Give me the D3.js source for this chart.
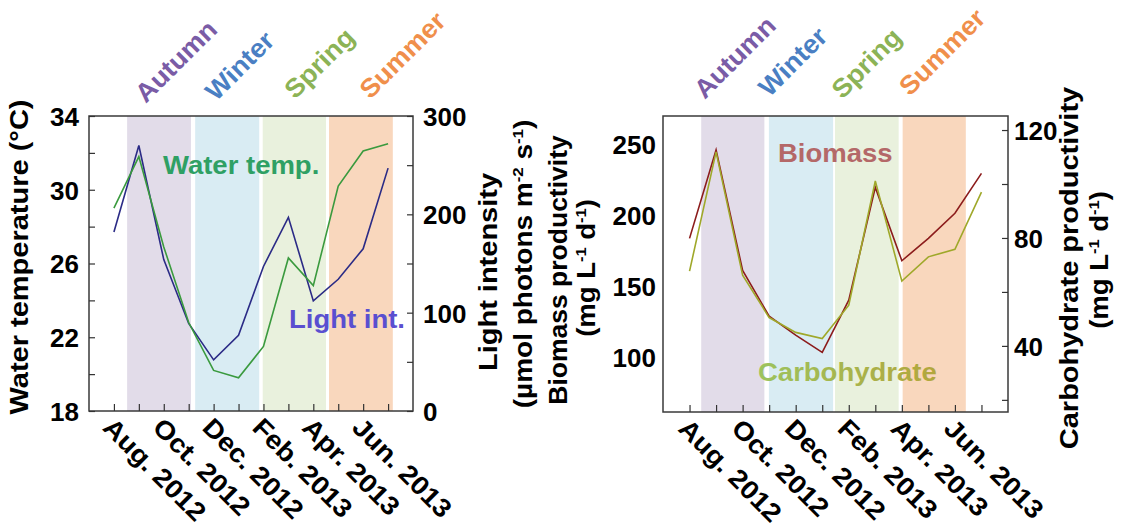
<!DOCTYPE html>
<html>
<head>
<meta charset="utf-8">
<script src="https://cdn.jsdelivr.net/npm/d3@7/dist/d3.min.js"></script>
<style>
  html, body { margin: 0; padding: 0; background: #fff; }
  svg { display: block; font-family: "Liberation Sans", Arial, sans-serif; font-weight: bold; }
</style>
</head>
<body>
<svg id="chart" width="1122" height="526"></svg>
<script>
// Monthly sampling, Aug 2012 – Jul 2013
const months = ["Aug. 2012", "Sep. 2012", "Oct. 2012", "Nov. 2012", "Dec. 2012", "Jan. 2013",
                "Feb. 2013", "Mar. 2013", "Apr. 2013", "May 2013", "Jun. 2013", "Jul. 2013"];
const monthTickLabels = ["Aug. 2012", "", "Oct. 2012", "", "Dec. 2012", "",
                         "Feb. 2013", "", "Apr. 2013", "", "Jun. 2013", ""];

// Left panel series
const waterTemp = [29.0, 31.8, 26.9, 22.8, 20.2, 19.8, 21.5, 26.3, 24.8, 30.2, 32.1, 32.5];   // °C
const lightInt  = [182, 270, 154, 89, 52, 77, 147, 197, 112, 134, 165, 247];                 // µmol photons m-2 s-1

// Right panel series
const biomass      = [183.6, 246, 161, 128.7, 115.3, 103.1, 140, 219.6, 167.8, 183.6, 201.3, 229.5]; // mg L-1 d-1
const carbohydrate = [67.7, 111.9, 66.2, 50.5, 45.0, 42.7, 55.1, 101.1, 64.0, 73.0, 75.8, 97.0];     // mg L-1 d-1

// Axis ticks
const tempTicks = [18, 20, 22, 24, 26, 28, 30, 32, 34];
const tempLabels = [18, 22, 26, 30, 34];
const lightTicks = [0, 50, 100, 150, 200, 250, 300];
const lightLabels = [0, 100, 200, 300];
const biomassTicks = [100, 150, 200, 250];
const carbTicks = [20, 40, 60, 80, 100, 120];
const carbLabels = [40, 80, 120];

// Seasons (shaded spans, in month-index units)
const seasons = ["Autumn", "Winter", "Spring", "Summer"];
const seasonText = ["#7a5ca6", "#4a7fc3", "#8cb356", "#f08f4b"];
const seasonFill = ["#e2dce9", "#d9ecf3", "#e9f1dd", "#f9d7bd"];
const leftSpans  = [[0.53, 3.09], [3.26, 5.83], [5.97, 8.51], [8.63, 11.19]];
const rightSpans = [[0.44, 2.82], [2.99, 5.41], [5.48, 7.88], [8.03, 10.41]];
const leftSeasonAt  = [1.28, 4.1, 7.27, 10.28];
const rightSeasonAt = [0.57, 3.0, 5.75, 8.3];

const svg = d3.select("#chart");

// gradient for the "Carbohydrate" label
const defs = svg.append("defs");
const grad = defs.append("linearGradient").attr("id", "carbGrad")
  .attr("x1", "0%").attr("x2", "100%").attr("y1", "0%").attr("y2", "0%");
grad.append("stop").attr("offset", "0%").attr("stop-color", "#9cc35e");
grad.append("stop").attr("offset", "100%").attr("stop-color", "#b3a63c");

const TICK_FONT = 26;
const TITLE_FONT = 25;

function panel(opts) {
  const { x0, x1, y0, y1, spans, seasonAt, seasonY } = opts;
  const x = d3.scaleLinear().domain([-1, 12]).range([x0, x1]);
  const g = svg.append("g");

  // season bands
  g.selectAll("rect.band").data(spans).join("rect")
    .attr("class", "band")
    .attr("x", d => x(d[0])).attr("width", d => x(d[1]) - x(d[0]))
    .attr("y", y0).attr("height", y1 - y0)
    .attr("fill", (d, i) => seasonFill[i]);

  // season names above the frame
  g.selectAll("text.season").data(seasons).join("text")
    .attr("class", "season")
    .attr("transform", (d, i) => `translate(${x(seasonAt[i])},${seasonY[i]}) rotate(-45) scale(1.05,1)`)
    .attr("font-size", 26)
    .attr("fill", (d, i) => seasonText[i])
    .text(d => d);

  // frame
  g.append("rect")
    .attr("x", x0).attr("y", y0).attr("width", x1 - x0).attr("height", y1 - y0)
    .attr("fill", "none").attr("stroke", "#3a3a3a").attr("stroke-width", 1.5);

  // bottom axis with inward ticks
  const xAxis = g.append("g").attr("transform", `translate(0,${y1})`)
    .call(d3.axisBottom(x).tickValues(d3.range(12)).tickSize(-7).tickSizeOuter(0)
      .tickFormat(i => monthTickLabels[i]));
  xAxis.select(".domain").remove();
  xAxis.selectAll(".tick line").attr("stroke", "#333").attr("stroke-width", 1.2);
  xAxis.selectAll(".tick text")
    .attr("font-size", 26).attr("fill", "#000")
    .attr("text-anchor", "start")
    .attr("y", 0).attr("dy", 0)
    .attr("transform", "translate(-13,18) rotate(45) scale(1.08,1)");

  return { g, x };
}

function styleAxis(sel) {
  sel.select(".domain").remove();
  sel.selectAll(".tick line").attr("stroke", "#333").attr("stroke-width", 1.2);
  sel.selectAll(".tick text").attr("font-size", TICK_FONT).attr("fill", "#000");
}

// rotated axis title; parts with `sup` are set as raised small text
function vTitle(cx, cy, parts, size, stretch = 1.16) {
  const t = svg.append("text")
    .attr("transform", `translate(${cx},${cy}) rotate(-90) scale(${stretch},1)`)
    .attr("text-anchor", "middle")
    .attr("font-size", size)
    .attr("fill", "#000");
  const rise = size * 0.38;
  let raised = false;
  parts.forEach(p => {
    const ts = t.append("tspan");
    if (p.sup) {
      ts.attr("font-size", size * 0.6).text(p.sup);
      if (!raised) ts.attr("dy", -rise);
      raised = true;
    } else {
      ts.text(p.t);
      if (raised) ts.attr("dy", rise);
      raised = false;
    }
  });
  return t;
}

// ---------------- Left panel: water temperature & light intensity ----------------
{
  const L = { x0: 89, x1: 413, y0: 116, y1: 411 };
  const { g, x } = panel({ ...L, spans: leftSpans, seasonAt: leftSeasonAt, seasonY: [104, 102, 100, 100] });
  const yT = d3.scaleLinear().domain([18, 34]).range([L.y1, L.y0]);
  const yI = d3.scaleLinear().domain([0, 300]).range([L.y1, L.y0]);

  const la = g.append("g").attr("transform", `translate(${L.x0},0)`)
    .call(d3.axisLeft(yT).tickValues(tempTicks).tickSize(-6).tickPadding(10)
      .tickFormat(d => tempLabels.includes(d) ? d : ""));
  styleAxis(la);
  la.selectAll(".tick text").attr("dy", "0.36em");

  const ra = g.append("g").attr("transform", `translate(${L.x1},0)`)
    .call(d3.axisRight(yI).tickValues(lightTicks).tickSize(-6).tickPadding(10)
      .tickFormat(d => lightLabels.includes(d) ? d : ""));
  styleAxis(ra);
  ra.selectAll(".tick text").attr("dy", "0.36em");

  const line = y => d3.line().x((d, i) => x(i)).y(d => y(d));
  g.append("path").datum(lightInt).attr("d", line(yI))
    .attr("fill", "none").attr("stroke", "#2b2b86").attr("stroke-width", 1.6);
  g.append("path").datum(waterTemp).attr("d", line(yT))
    .attr("fill", "none").attr("stroke", "#3a9a3e").attr("stroke-width", 1.6);

  g.append("text").attr("transform", "translate(163,174) scale(1.1,1)")
    .attr("font-size", TITLE_FONT).attr("fill", "#2fa064").text("Water temp.");
  g.append("text").attr("transform", "translate(289,328) scale(1.1,1)")
    .attr("font-size", TITLE_FONT).attr("fill", "#5a4fd0").text("Light int.");

  vTitle(28, 257, [{ t: "Water temperature (°C)" }], TITLE_FONT);
  vTitle(497, 272, [{ t: "Light intensity" }], TITLE_FONT);
  vTitle(532, 264, [{ t: "(µmol photons m" }, { sup: "-2" }, { t: " s" }, { sup: "-1" }, { t: ")" }], TITLE_FONT, 1.12);
}

// ---------------- Right panel: biomass & carbohydrate productivity ----------------
{
  const R = { x0: 663, x1: 1008, y0: 116, y1: 412 };
  const { g, x } = panel({ ...R, spans: rightSpans, seasonAt: rightSeasonAt, seasonY: [100, 98, 100, 97] });
  const yB = d3.scaleLinear().domain([61, 270]).range([R.y1, R.y0]);
  const yC = d3.scaleLinear().domain([15.5, 125.2]).range([R.y1, R.y0]);

  const la = g.append("g").attr("transform", `translate(${R.x0},0)`)
    .call(d3.axisLeft(yB).tickValues(biomassTicks).tickSize(0).tickPadding(7));
  styleAxis(la);
  la.selectAll(".tick text").attr("dy", "0.36em");

  const ra = g.append("g").attr("transform", `translate(${R.x1},0)`)
    .call(d3.axisRight(yC).tickValues(carbTicks).tickSize(-6).tickPadding(6)
      .tickFormat(d => carbLabels.includes(d) ? d : ""));
  styleAxis(ra);
  ra.selectAll(".tick text").attr("dy", "0.36em");

  const line = y => d3.line().x((d, i) => x(i)).y(d => y(d));
  g.append("path").datum(biomass).attr("d", line(yB))
    .attr("fill", "none").attr("stroke", "#8c1c1c").attr("stroke-width", 1.6);
  g.append("path").datum(carbohydrate).attr("d", line(yC))
    .attr("fill", "none").attr("stroke", "#9fa82a").attr("stroke-width", 1.6);

  g.append("text").attr("transform", "translate(778,162) scale(1.1,1)")
    .attr("font-size", TITLE_FONT).attr("fill", "#b46868").text("Biomass");
  g.append("text").attr("transform", "translate(758,381) scale(1.1,1)")
    .attr("font-size", TITLE_FONT).attr("fill", "url(#carbGrad)").text("Carbohydrate");

  vTitle(567, 270, [{ t: "Biomass productivity" }], TITLE_FONT, 1.06);
  vTitle(595, 268, [{ t: "(mg L" }, { sup: "-1" }, { t: " d" }, { sup: "-1" }, { t: ")" }], TITLE_FONT, 1.1);
  vTitle(1078, 268, [{ t: "Carbohydrate productivity" }], TITLE_FONT);
  vTitle(1108, 260, [{ t: "(mg L" }, { sup: "-1" }, { t: " d" }, { sup: "-1" }, { t: ")" }], TITLE_FONT, 1.1);
}
</script>
</body>
</html>
